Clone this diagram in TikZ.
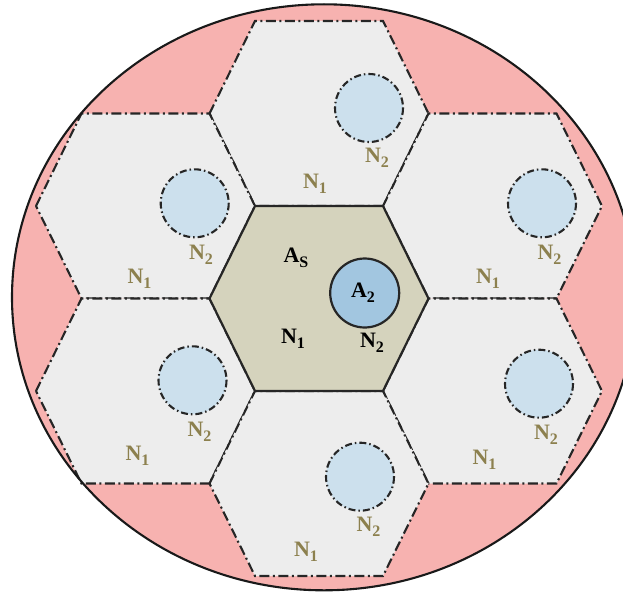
\documentclass[tikz,border=0pt]{standalone}
\usepackage{fontspec}
\setmainfont{Liberation Serif}
\definecolor{pinkbg}{RGB}{247,178,176}
\definecolor{hexgray}{RGB}{237,237,237}
\definecolor{hexbeige}{RGB}{213,211,189}
\definecolor{lightblue}{RGB}{204,224,237}
\definecolor{midblue}{RGB}{162,198,224}
\definecolor{olivetext}{RGB}{140,128,78}
\newcommand\sbs[1]{\raisebox{-0.45ex}{\fontsize{16}{16}\selectfont #1}}
\tikzset{
  hexa/.pic={\path[pic actions] (-109.5,0) -- (-64,-92.5) -- (64,-92.5) -- (109.5,0) -- (64,92.5) -- (-64,92.5) -- cycle;},
  dashdot/.style={dash pattern=on 10pt off 3.5pt on 2pt off 3.5pt},
  outerhex/.style={draw=black!85, fill=hexgray, line width=2.1pt, dashdot},
  centerhex/.style={draw=black!85, fill=hexbeige, line width=2.2pt},
  smallcirc/.style={draw=black!85, fill=lightblue, line width=2.1pt, dash pattern=on 7pt off 3pt on 1.5pt off 3pt},
  bigcirc/.style={draw=black!85, fill=midblue, line width=2.2pt},
  lab/.style={font=\fontsize{22}{25}\selectfont\bfseries, text=olivetext, inner sep=0pt},
  blab/.style={lab, text=black}
}
\begin{document}
\begin{tikzpicture}[x=1pt,y=-1pt]
\useasboundingbox (0,0) rectangle (623,594);
\clip (0,0) rectangle (623,594);
\fill[white] (0,0) rectangle (623,594);
% outer pink ellipse
\fill[pinkbg] (324,297.3) ellipse [x radius=312, y radius=293];
% outer hexagons
\pic[outerhex] at (319,113.5) {hexa};
\pic[outerhex] at (145.5,206) {hexa};
\pic[outerhex] at (492.5,206) {hexa};
\pic[outerhex] at (145.5,391) {hexa};
\pic[outerhex] at (492.5,391) {hexa};
\pic[outerhex] at (319,483.5) {hexa};
% central hexagon
\pic[centerhex] at (319,298.5) {hexa};
% ellipse outline
\draw[black!90, line width=2.1pt] (324,297.3) ellipse [x radius=312, y radius=293];
% small circles
\draw[smallcirc] (369,108) circle [radius=34];
\draw[smallcirc] (194.7,203.3) circle [radius=34];
\draw[smallcirc] (542,203.3) circle [radius=34];
\draw[smallcirc] (192.5,380.3) circle [radius=34];
\draw[smallcirc] (539,383.7) circle [radius=34];
\draw[smallcirc] (360,476.7) circle [radius=34];
\draw[bigcirc] (364.7,293) circle [radius=34.5];
% labels central
\node[blab] (as) at (296,258) {A\sbs{S}};
\node[blab] (a2) at (363,293) {A\sbs{2}};
\node[blab] (cn1) at (293,339) {N\sbs{1}};
\node[blab] (cn2) at (372,343) {N\sbs{2}};
% labels outer
\node[lab] (tn1) at (315,184) {N\sbs{1}};
\node[lab] (tn2) at (377,158) {N\sbs{2}};
\node[lab] (uln1) at (139.5,279) {N\sbs{1}};
\node[lab] (uln2) at (201,255) {N\sbs{2}};
\node[lab] (urn1) at (488,279) {N\sbs{1}};
\node[lab] (urn2) at (549.5,255) {N\sbs{2}};
\node[lab] (lln1) at (137.5,456) {N\sbs{1}};
\node[lab] (lln2) at (199.5,432) {N\sbs{2}};
\node[lab] (lrn1) at (484.5,460) {N\sbs{1}};
\node[lab] (lrn2) at (546,435) {N\sbs{2}};
\node[lab] (bn1) at (306,552) {N\sbs{1}};
\node[lab] (bn2) at (368.5,527) {N\sbs{2}};
\end{tikzpicture}
\end{document}
